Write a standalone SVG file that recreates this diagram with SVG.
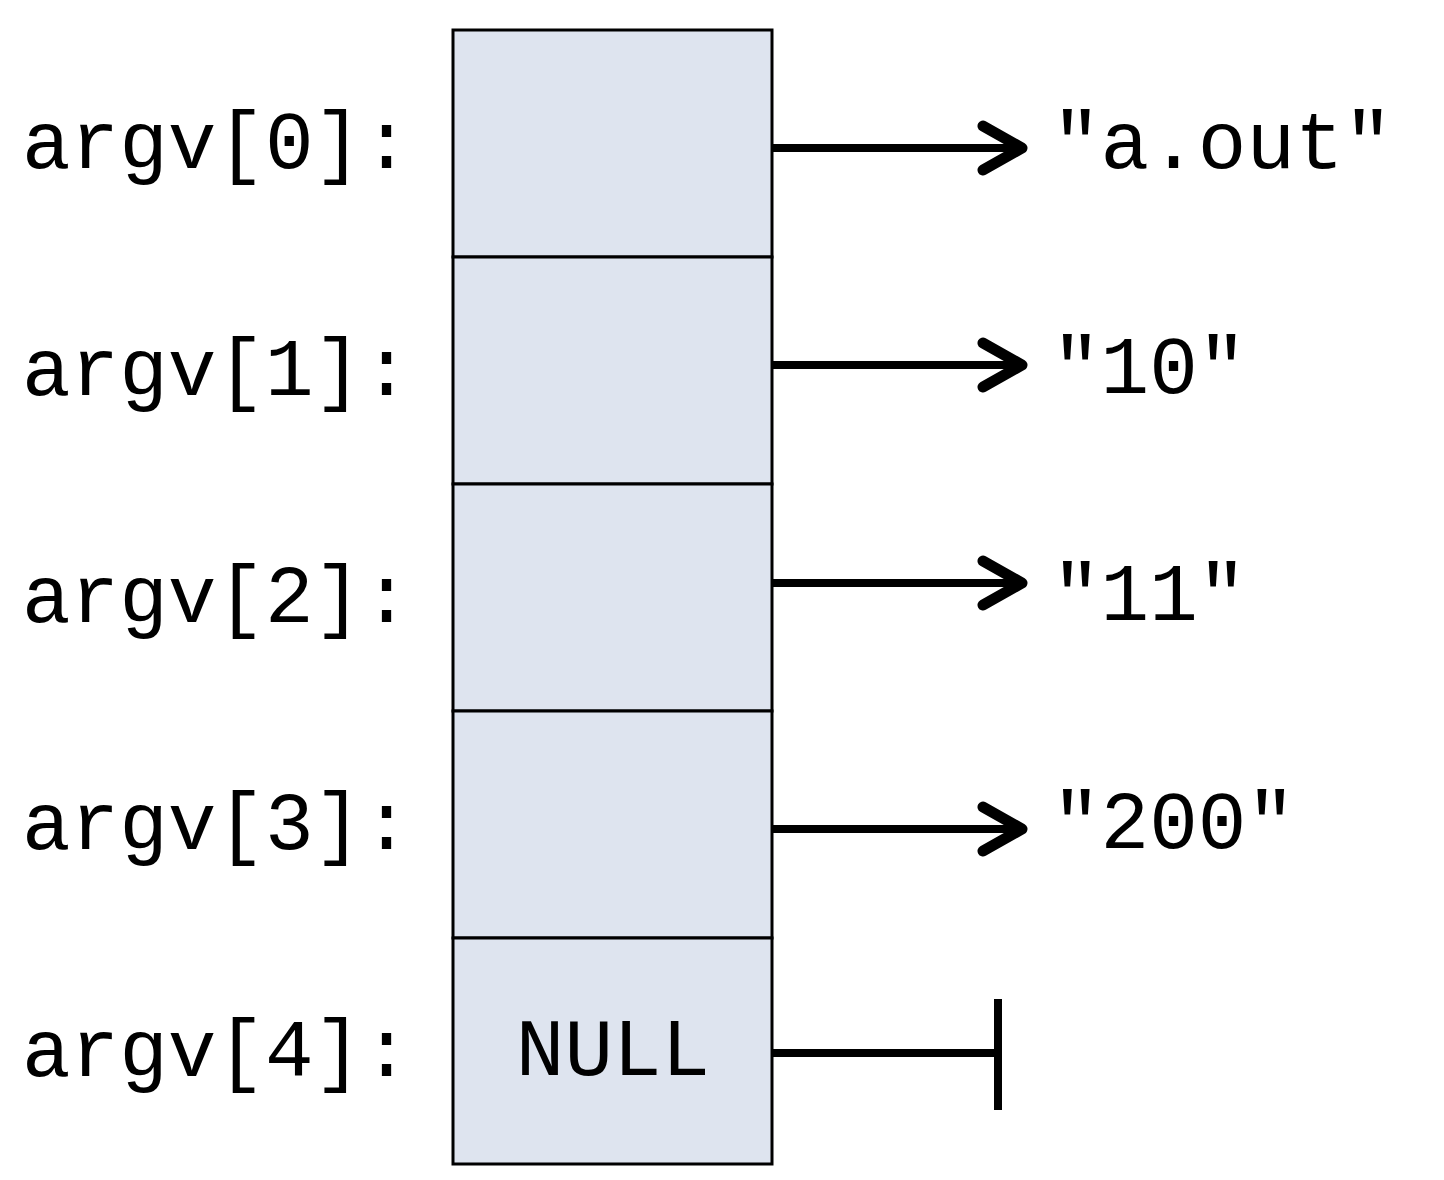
<svg xmlns="http://www.w3.org/2000/svg" width="1444" height="1180" viewBox="0 0 1444 1180">
<defs>
<style>
.t{font-family:"Liberation Mono","Courier New",monospace;font-size:81px;fill:#000}
.cell{fill:#dee4ef;stroke:#000;stroke-width:3}
.c{stroke:#000;stroke-width:8;fill:none}
</style>
<marker id="ah" viewBox="0 0 12 16" refX="11" refY="8" markerWidth="12" markerHeight="16" markerUnits="userSpaceOnUse" orient="auto" overflow="visible">
<path d="M-28,-14 L11,8 L-28,30" fill="none" stroke="#000" stroke-width="11" stroke-linecap="round" stroke-linejoin="round"/>
</marker>
</defs>
<rect width="1444" height="1180" fill="#fff"/>
<g id="cell0"><rect class="cell" x="453" y="30" width="319" height="227"/><text class="t" x="22" y="168">argv[0]:</text></g>
<g id="cell1"><rect class="cell" x="453" y="257" width="319" height="227"/><text class="t" x="22" y="395">argv[1]:</text></g>
<g id="cell2"><rect class="cell" x="453" y="484" width="319" height="227"/><text class="t" x="22" y="622">argv[2]:</text></g>
<g id="cell3"><rect class="cell" x="453" y="711" width="319" height="227"/><text class="t" x="22" y="849">argv[3]:</text></g>
<g id="cell4"><rect class="cell" x="453" y="938" width="319" height="226"/><text class="t" x="22" y="1076">argv[4]:</text><text class="t" x="613" y="1075" text-anchor="middle">NULL</text></g>
<g id="str0"><text class="t" x="1052" y="168">"a.out"</text></g>
<g id="str1"><text class="t" x="1052" y="393">"10"</text></g>
<g id="str2"><text class="t" x="1052" y="620">"11"</text></g>
<g id="str3"><text class="t" x="1052" y="848">"200"</text></g>
<g id="connectors">
<line class="c" x1="772" y1="148" x2="1022" y2="148" marker-end="url(#ah)"/>
<line class="c" x1="772" y1="365" x2="1022" y2="365" marker-end="url(#ah)"/>
<line class="c" x1="772" y1="583" x2="1022" y2="583" marker-end="url(#ah)"/>
<line class="c" x1="772" y1="829" x2="1022" y2="829" marker-end="url(#ah)"/>
<line class="c" x1="772" y1="1053" x2="998" y2="1053"/>
<line class="c" x1="998" y1="999" x2="998" y2="1110" stroke-width="9"/>
</g>
</svg>
